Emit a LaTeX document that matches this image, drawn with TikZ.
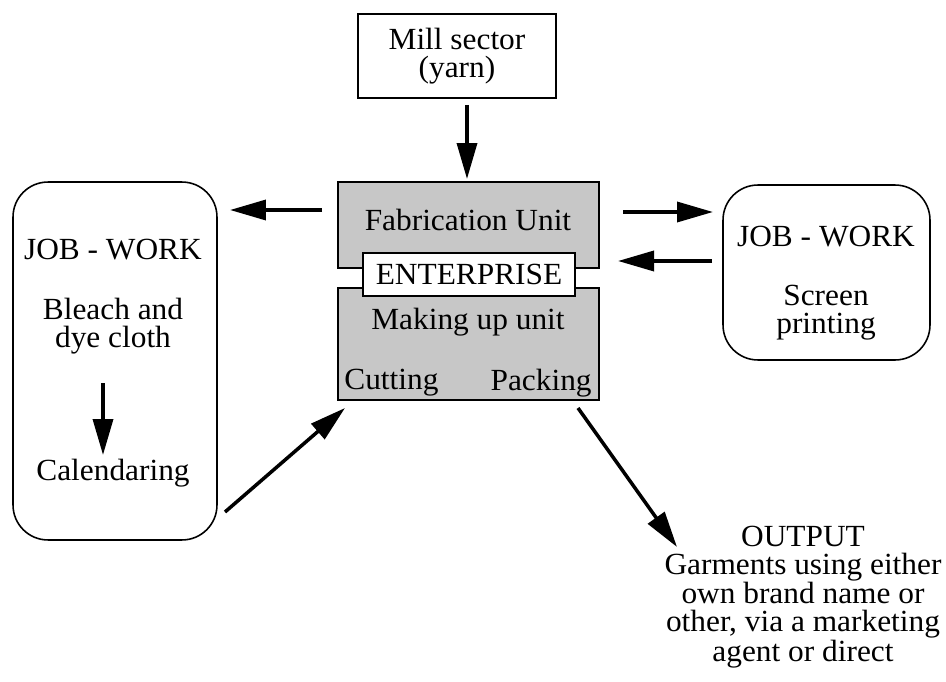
\documentclass[tikz,border=0pt]{standalone}
\usepackage{fontspec}
\setmainfont{Liberation Serif}[FakeStretch=1.02]
\usepackage{tikz}
\usetikzlibrary{arrows.meta}
\usetikzlibrary{positioning}
\tikzset{
  unitbox/.style={draw, line width=.9pt, fill=black!22, inner sep=0pt},
  entbox/.style={draw, line width=.9pt, fill=white, inner sep=0pt},
  jobbox/.style={draw, line width=.9pt, rounded corners=.7cm, inner sep=0pt},
  bigarrow/.style={line width=2pt, -{Triangle[length=.72cm, width=.4cm]}},
}

\begin{document}
\begin{tikzpicture}[x=.02cm, y=-.02cm, font=\fontsize{17.5}{15.8}\selectfont]
          \useasboundingbox (0,0) rectangle (946,682);

          % boxes
          \node[entbox, minimum width=3.96cm, minimum height=1.68cm, align=center] (mill) at (457,56) {Mill sector\\(yarn)};
          \node[unitbox, minimum width=5.22cm, minimum height=1.72cm] (fab) at (468.5,225) {};
          \node[unitbox, minimum width=5.22cm, minimum height=2.24cm] (mak) at (468.5,344) {};
          \node[entbox, minimum width=4.24cm, minimum height=.86cm] (ent) at (469,274.5) {ENTERPRISE};
          \node[jobbox, minimum width=4.08cm, minimum height=7.16cm] (jobl) at (115,361) {};
          \node[jobbox, minimum width=4.14cm, minimum height=3.5cm] (jobr) at (826.5,272.5) {};

          % texts
          \node (fabtxt) at (468,220) {Fabrication Unit};
          \node (maktxt) at (468,322) {Making up unit};
          \node[anchor=west, inner sep=0pt] (cut) at (344,383) {Cutting};
          \node[anchor=east, inner sep=0pt] (pack) at (592,383) {Packing};
          \node (jobltxt) at (113,250) {JOB - WORK};
          \node[align=center] (bleach) at (113,326) {Bleach and\\dye cloth};
          \node (calend) at (113,473) {Calendaring};
          \node (jobrtxt) at (826,237) {JOB - WORK};
          \node[align=center] (screen) at (826,313) {Screen\\printing};
          \node[align=center] (outp) at (803,597) {OUTPUT\\Garments using either\\own brand name or\\other, via a marketing\\agent or direct};

          % arrow ends
          \coordinate (m1) at (467,105);
          \coordinate (m2) at (467,179);
          \coordinate (b1) at (103,383);
          \coordinate (b2) at (103,455);
          \coordinate (l1) at (322,210);
          \coordinate (l2) at (230,210);
          \coordinate (r1) at (623,212);
          \coordinate (r2) at (713,212);
          \coordinate (s1) at (712,261);
          \coordinate (s2) at (618,261);
          \coordinate (c1) at (225,512);
          \coordinate (c2) at (345,408);
          \coordinate (o1) at (578,408);
          \coordinate (o2) at (677,547);

          \draw[bigarrow] (m1) -- (m2);
          \draw[bigarrow] (b1) -- (b2);
          \draw[bigarrow] (l1) -- (l2);
          \draw[bigarrow] (r1) -- (r2);
          \draw[bigarrow] (s1) -- (s2);
          \draw[bigarrow] (c1) -- (c2);
          \draw[bigarrow] (o1) -- (o2);

\end{tikzpicture}
\end{document}
